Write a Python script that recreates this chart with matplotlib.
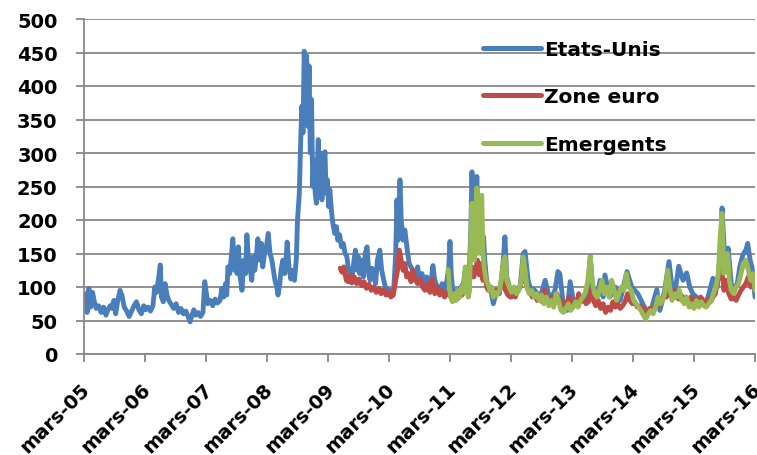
import matplotlib
matplotlib.use('Agg')
import matplotlib.pyplot as plt
import matplotlib.transforms as mtransforms

# Etats-Unis (decimal year, level)
us_years = [
    2005.17, 2005.20, 2005.22, 2005.25, 2005.28, 2005.31, 2005.34, 2005.37, 2005.41, 2005.45,
    2005.49, 2005.53, 2005.56, 2005.60, 2005.63, 2005.66, 2005.69, 2005.72, 2005.76, 2005.79,
    2005.83, 2005.87, 2005.91, 2005.95, 2005.99, 2006.03, 2006.07, 2006.11, 2006.15, 2006.18,
    2006.22, 2006.26, 2006.30, 2006.33, 2006.36, 2006.40, 2006.42, 2006.44, 2006.47, 2006.50,
    2006.53, 2006.56, 2006.60, 2006.64, 2006.68, 2006.72, 2006.76, 2006.80, 2006.84, 2006.88,
    2006.91, 2006.94, 2006.97, 2007.00, 2007.04, 2007.08, 2007.12, 2007.15, 2007.17, 2007.20,
    2007.24, 2007.28, 2007.32, 2007.36, 2007.40, 2007.43, 2007.46, 2007.49, 2007.51, 2007.53,
    2007.56, 2007.59, 2007.61, 2007.64, 2007.66, 2007.68, 2007.70, 2007.73, 2007.76, 2007.79,
    2007.82, 2007.84, 2007.86, 2007.89, 2007.92, 2007.94, 2007.97, 2008.00, 2008.02, 2008.05,
    2008.08, 2008.10, 2008.13, 2008.16, 2008.19, 2008.22, 2008.25, 2008.27, 2008.30, 2008.33,
    2008.35, 2008.38, 2008.40, 2008.43, 2008.46, 2008.49, 2008.50, 2008.53, 2008.56, 2008.59,
    2008.62, 2008.65, 2008.67, 2008.70, 2008.72, 2008.74, 2008.76, 2008.78, 2008.80, 2008.82,
    2008.84, 2008.86, 2008.88, 2008.90, 2008.92, 2008.94, 2008.96, 2008.98, 2009.01, 2009.03,
    2009.05, 2009.07, 2009.09, 2009.12, 2009.14, 2009.16, 2009.18, 2009.20, 2009.23, 2009.25,
    2009.28, 2009.31, 2009.33, 2009.36, 2009.39, 2009.42, 2009.45, 2009.48, 2009.50, 2009.53,
    2009.56, 2009.59, 2009.62, 2009.65, 2009.67, 2009.69, 2009.72, 2009.75, 2009.78, 2009.81,
    2009.84, 2009.86, 2009.89, 2009.92, 2009.95, 2009.98, 2010.02, 2010.05, 2010.08, 2010.11,
    2010.15, 2010.19, 2010.22, 2010.25, 2010.28, 2010.30, 2010.32, 2010.35, 2010.37, 2010.40,
    2010.43, 2010.47, 2010.50, 2010.53, 2010.56, 2010.60, 2010.64, 2010.67, 2010.71, 2010.75,
    2010.79, 2010.83, 2010.86, 2010.89, 2010.92, 2010.96, 2011.00, 2011.04, 2011.08, 2011.12,
    2011.15, 2011.17, 2011.19, 2011.22, 2011.25, 2011.28, 2011.31, 2011.35, 2011.39, 2011.42,
    2011.45, 2011.48, 2011.51, 2011.53, 2011.55, 2011.57, 2011.59, 2011.61, 2011.63, 2011.66,
    2011.69, 2011.72, 2011.74, 2011.77, 2011.80, 2011.84, 2011.88, 2011.91, 2011.94, 2011.98,
    2012.01, 2012.04, 2012.07, 2012.10, 2012.13, 2012.18, 2012.24, 2012.32, 2012.37, 2012.40,
    2012.45, 2012.48, 2012.56, 2012.65, 2012.73, 2012.81, 2012.89, 2012.94, 2012.97, 2013.02,
    2013.09, 2013.14, 2013.19, 2013.25, 2013.35, 2013.42, 2013.47, 2013.51, 2013.58, 2013.63,
    2013.68, 2013.71, 2013.79, 2013.88, 2013.96, 2014.07, 2014.15, 2014.25, 2014.33, 2014.40,
    2014.48, 2014.56, 2014.61, 2014.68, 2014.76, 2014.83, 2014.87, 2014.92, 2014.99, 2015.05,
    2015.10, 2015.15, 2015.27, 2015.38, 2015.48, 2015.55, 2015.60, 2015.63, 2015.68, 2015.73,
    2015.79, 2015.88, 2015.92, 2015.97, 2016.02, 2016.05, 2016.09, 2016.12, 2016.17,
]
us_values = [
    75, 90, 62, 98, 70, 92, 78, 68, 72, 62,
    70, 58, 66, 72, 68, 80, 60, 78, 95, 88,
    70, 64, 56, 64, 72, 78, 66, 60, 72, 66,
    70, 64, 72, 100, 92, 118, 133, 85, 78, 105,
    88, 80, 74, 68, 75, 62, 68, 60, 64, 55,
    48, 58, 66, 58, 62, 56, 62, 108, 95, 75,
    80, 72, 82, 76, 80, 98, 85, 105, 88, 130,
    120, 150, 172, 125, 150, 120, 160, 115, 95, 140,
    120, 178, 150, 130, 110, 145, 125, 150, 172, 140,
    165, 130, 150, 160, 180, 150, 140, 128, 110, 100,
    88, 105, 125, 140, 120, 150, 167, 130, 112, 125,
    110, 140, 200, 240, 310, 370, 330, 452, 400, 445,
    340, 430, 300, 380, 250, 290, 240, 225, 320, 260,
    300, 230, 270, 302, 240, 260, 220, 245, 210, 195,
    180, 190, 170, 178, 160, 165, 150, 145, 130, 120,
    110, 135, 155, 125, 145, 120, 140, 115, 150, 160,
    118, 110, 128, 120, 105, 140, 155, 125, 112, 100,
    96, 95, 92, 100, 150, 230, 170, 260, 200, 170,
    185, 155, 135, 130, 125, 110, 130, 108, 120, 105,
    115, 100, 108, 132, 110, 100, 95, 105, 95, 110,
    130, 168, 120, 90, 85, 95, 92, 100, 105, 125,
    100, 110, 180, 272, 200, 160, 210, 265, 180, 200,
    150, 175, 140, 110, 100, 95, 75, 85, 95, 90,
    110, 135, 175, 115, 105, 85, 95, 100, 150, 153,
    110, 100, 95, 85, 110, 80, 95, 123, 120, 80,
    65, 108, 80, 75, 85, 80, 146, 95, 85, 110,
    85, 118, 85, 100, 80, 123, 100, 90, 75, 62,
    70, 96, 65, 90, 138, 85, 100, 131, 110, 121,
    100, 90, 80, 78, 113, 100, 150, 218, 130, 158,
    95, 105, 130, 148, 155, 165, 140, 130, 85,
]

# Zone euro
ez_years = [
    2009.37, 2009.40, 2009.43, 2009.47, 2009.50, 2009.53, 2009.56, 2009.60, 2009.64, 2009.68,
    2009.72, 2009.76, 2009.80, 2009.84, 2009.88, 2009.92, 2009.96, 2010.00, 2010.04, 2010.08,
    2010.12, 2010.16, 2010.20, 2010.24, 2010.28, 2010.31, 2010.34, 2010.37, 2010.40, 2010.43,
    2010.46, 2010.49, 2010.53, 2010.56, 2010.60, 2010.64, 2010.68, 2010.72, 2010.76, 2010.80,
    2010.84, 2010.88, 2010.92, 2010.96, 2011.00, 2011.04, 2011.08, 2011.13, 2011.17, 2011.21,
    2011.25, 2011.29, 2011.33, 2011.37, 2011.41, 2011.45, 2011.49, 2011.53, 2011.56, 2011.59,
    2011.62, 2011.65, 2011.68, 2011.71, 2011.74, 2011.77, 2011.80, 2011.84, 2011.88, 2011.92,
    2011.96, 2012.00, 2012.04, 2012.08, 2012.12, 2012.16, 2012.20, 2012.24, 2012.28, 2012.32,
    2012.36, 2012.40, 2012.44, 2012.48, 2012.52, 2012.56, 2012.60, 2012.64, 2012.68, 2012.72,
    2012.76, 2012.80, 2012.84, 2012.88, 2012.92, 2012.96, 2013.00, 2013.04, 2013.08, 2013.12,
    2013.16, 2013.20, 2013.24, 2013.28, 2013.32, 2013.36, 2013.40, 2013.44, 2013.48, 2013.52,
    2013.56, 2013.60, 2013.64, 2013.68, 2013.72, 2013.76, 2013.80, 2013.84, 2013.88, 2013.92,
    2013.96, 2014.00, 2014.04, 2014.08, 2014.12, 2014.16, 2014.20, 2014.24, 2014.28, 2014.32,
    2014.36, 2014.40, 2014.44, 2014.48, 2014.52, 2014.56, 2014.60, 2014.64, 2014.68, 2014.72,
    2014.76, 2014.80, 2014.84, 2014.88, 2014.92, 2014.96, 2015.00, 2015.04, 2015.08, 2015.12,
    2015.16, 2015.20, 2015.24, 2015.28, 2015.32, 2015.36, 2015.40, 2015.44, 2015.48, 2015.52,
    2015.56, 2015.60, 2015.63, 2015.66, 2015.70, 2015.74, 2015.78, 2015.82, 2015.86, 2015.90,
    2015.94, 2015.98, 2016.02, 2016.06, 2016.10, 2016.14, 2016.17,
]
ez_values = [
    128, 122, 130, 110, 108, 118, 106, 115, 105, 112,
    102, 108, 98, 104, 95, 100, 92, 98, 90, 96,
    88, 92, 85, 88, 110, 125, 155, 140, 125, 135,
    115, 120, 108, 125, 110, 105, 112, 100, 95, 105,
    92, 112, 90, 100, 88, 95, 85, 92, 88, 80,
    85, 82, 90, 88, 98, 100, 110, 130, 115, 125,
    140, 118, 135, 110, 130, 100, 95, 100, 85, 95,
    90, 100, 115, 95, 88, 85, 90, 85, 95, 100,
    120, 110, 98, 92, 85, 90, 80, 85, 78, 95,
    82, 78, 85, 75, 90, 80, 72, 78, 70, 85,
    75, 80, 72, 90, 78, 82, 75, 78, 95, 80,
    72, 80, 68, 75, 62, 70, 65, 78, 70, 75,
    68, 72, 78, 90, 80, 75, 78, 70, 72, 65,
    68, 60, 68, 65, 70, 78, 72, 80, 90, 85,
    100, 90, 95, 85, 82, 88, 80, 85, 78, 85,
    80, 82, 78, 85, 80, 75, 82, 78, 85, 90,
    110, 120, 125, 95, 110, 90, 82, 85, 80, 88,
    95, 100, 105, 115, 100, 105, 100,
]

# Emergents
em_years = [
    2011.14, 2011.16, 2011.18, 2011.21, 2011.24, 2011.27, 2011.30, 2011.33, 2011.36, 2011.39,
    2011.42, 2011.44, 2011.47, 2011.49, 2011.51, 2011.53, 2011.55, 2011.57, 2011.59, 2011.61,
    2011.63, 2011.65, 2011.67, 2011.69, 2011.71, 2011.73, 2011.76, 2011.79, 2011.82, 2011.85,
    2011.88, 2011.91, 2011.94, 2011.98, 2012.01, 2012.04, 2012.07, 2012.10, 2012.14, 2012.18,
    2012.22, 2012.26, 2012.30, 2012.34, 2012.37, 2012.40, 2012.43, 2012.47, 2012.51, 2012.55,
    2012.59, 2012.63, 2012.67, 2012.71, 2012.75, 2012.79, 2012.83, 2012.87, 2012.91, 2012.95,
    2012.99, 2013.03, 2013.07, 2013.11, 2013.15, 2013.19, 2013.23, 2013.27, 2013.31, 2013.35,
    2013.39, 2013.43, 2013.47, 2013.50, 2013.54, 2013.58, 2013.62, 2013.66, 2013.70, 2013.74,
    2013.78, 2013.82, 2013.86, 2013.90, 2013.94, 2013.98, 2014.02, 2014.06, 2014.10, 2014.14,
    2014.18, 2014.22, 2014.26, 2014.30, 2014.34, 2014.38, 2014.42, 2014.46, 2014.50, 2014.54,
    2014.58, 2014.62, 2014.66, 2014.70, 2014.74, 2014.77, 2014.81, 2014.85, 2014.89, 2014.93,
    2014.97, 2015.01, 2015.05, 2015.09, 2015.13, 2015.17, 2015.21, 2015.25, 2015.29, 2015.33,
    2015.37, 2015.41, 2015.45, 2015.49, 2015.53, 2015.57, 2015.60, 2015.63, 2015.66, 2015.69,
    2015.72, 2015.75, 2015.78, 2015.82, 2015.86, 2015.90, 2015.94, 2015.98, 2016.02, 2016.06,
    2016.10, 2016.14, 2016.17,
]
em_values = [
    126, 100, 85, 78, 90, 80, 95, 85, 100, 92,
    130, 100, 85, 95, 170, 225, 180, 140, 200, 248,
    150, 190, 160, 237, 150, 130, 110, 105, 95, 100,
    85, 92, 88, 95, 110, 135, 145, 110, 100, 92,
    100, 90, 95, 110, 145, 125, 100, 90, 95, 85,
    90, 80, 88, 75, 85, 72, 80, 70, 90, 80,
    65, 62, 68, 75, 65, 70, 78, 70, 80, 85,
    92, 110, 145, 110, 90, 85, 95, 110, 90, 100,
    85, 110, 95, 80, 90, 100, 95, 120, 100, 95,
    80, 75, 70, 65, 58, 52, 60, 65, 60, 70,
    85, 75, 80, 95, 125, 100, 80, 90, 85, 95,
    80, 75, 85, 70, 75, 68, 80, 70, 78, 72,
    70, 75, 80, 90, 100, 120, 175, 210, 120, 130,
    150, 110, 95, 90, 100, 105, 120, 135, 140, 125,
    110, 120, 95,
]

series_names = ['Etats-Unis', 'Zone euro', 'Emergents']
series_colors = ['#4A7EBB', '#BE4B48', '#98B954']

tick_years = [2005.17 + i for i in range(12)]
tick_labels = ['mars-%02d' % (5 + i) for i in range(12)]

grey = '#888888'

fig = plt.figure(figsize=(7.57, 4.56), dpi=100)
ax = fig.add_axes([84 / 757, 101 / 456, 671 / 757, 335 / 456])

for xs, ys, name, col in zip([us_years, ez_years, em_years],
                             [us_values, ez_values, em_values],
                             series_names, series_colors):
    ax.plot(xs, ys, color=col, linewidth=3.5, label=name,
            solid_capstyle='round', solid_joinstyle='round')

ax.set_xlim(tick_years[0], tick_years[-1])
ax.set_ylim(0, 500)
ax.set_yticks(range(0, 501, 50))
ax.set_xticks(tick_years)
ax.set_xticklabels(tick_labels, rotation=45, ha='right', va='top',
                   rotation_mode='anchor')

ax.yaxis.grid(True, color=grey, linewidth=1.3)
ax.set_axisbelow(True)
for side in ['top', 'right']:
    ax.spines[side].set_visible(False)
for side in ['left', 'bottom']:
    ax.spines[side].set_color(grey)
    ax.spines[side].set_linewidth(1.3)

ax.tick_params(axis='y', direction='out', length=6, width=1.3, color=grey,
               pad=13, labelsize=14)
ax.tick_params(axis='x', direction='out', length=6, width=1.3, color=grey,
               pad=12, labelsize=14)
for lab in ax.get_yticklabels() + ax.get_xticklabels():
    lab.set_fontweight('bold')

# nudge the rotated date labels a little to the left
shift = mtransforms.ScaledTranslation(-2.5 / 72, 0, fig.dpi_scale_trans)
for lab in ax.get_xticklabels():
    lab.set_transform(lab.get_transform() + shift)

leg = ax.legend(loc='upper left', bbox_to_anchor=(0.595, 0.938), frameon=False,
                prop={'weight': 'bold', 'size': 14.5}, handlelength=2.85,
                handletextpad=0.15, labelspacing=1.42, borderpad=0,
                borderaxespad=0)
for line in leg.get_lines():
    line.set_linewidth(3.6)

fig.savefig('out.png', dpi=100)
